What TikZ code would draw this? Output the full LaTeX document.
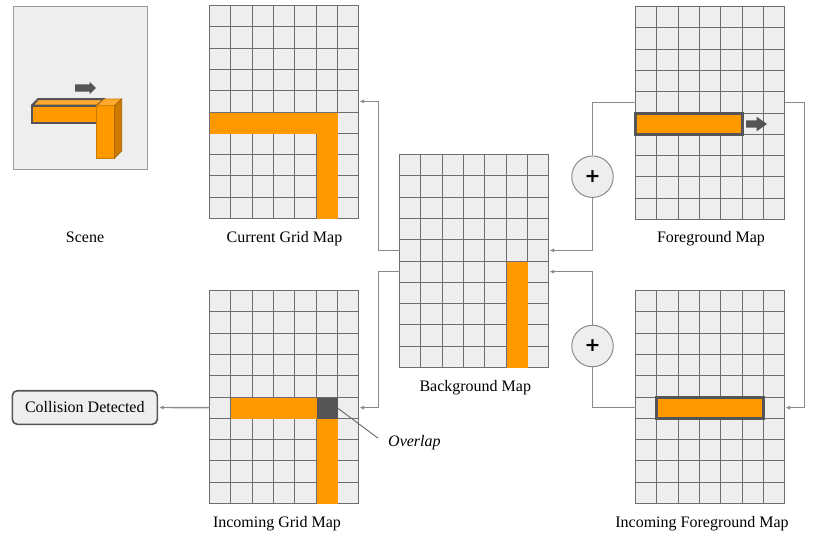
\documentclass[tikz,border=0pt]{standalone}
\usepackage{fontspec}
\setmainfont{Liberation Serif}
\newfontfamily\plusfont{DejaVu Sans}
\usetikzlibrary{calc,arrows.meta}
\definecolor{cellgray}{HTML}{EEEEEE}
\definecolor{gridln}{HTML}{6E6E6E}
\definecolor{orng}{HTML}{FF9900}
\definecolor{orngtop}{HTML}{FFAA2E}
\definecolor{orngside}{HTML}{CC7A00}
\definecolor{darkgr}{HTML}{555555}
\definecolor{connc}{HTML}{8A8A8A}
\definecolor{boxln}{HTML}{9A9A9A}
\newcommand\cellsz{21.3}
% filled block of cells, snapped to whole points: #1 colour, #2 grid, #3 col, #4 row, #5 cols, #6 rows
\newcommand\cellfill[6]{%
  \pgfmathsetmacro\cfxa{round(#3*\cellsz)}\pgfmathsetmacro\cfya{round(#4*\cellsz)}%
  \pgfmathsetmacro\cfxb{round((#3+#5)*\cellsz)}\pgfmathsetmacro\cfyb{round((#4+#6)*\cellsz)}%
  \fill[#1] ($(#2.north west)+(\cfxa,\cfya)$) rectangle ($(#2.north west)+(\cfxb,\cfyb)$);}
\newcommand\cellbar[6]{%
  \pgfmathsetmacro\cfxa{round(#3*\cellsz)}\pgfmathsetmacro\cfya{round(#4*\cellsz)}%
  \pgfmathsetmacro\cfxb{round((#3+#5)*\cellsz)}\pgfmathsetmacro\cfyb{round((#4+#6)*\cellsz)}%
  \draw[#1] ($(#2.north west)+(\cfxa,\cfya)$) rectangle ($(#2.north west)+(\cfxb,\cfyb)$);}
\newcommand\gridlinesfor[1]{%
  \foreach \i in {1,...,6}{\pgfmathsetmacro\gx{round(\i*\cellsz)}\draw[gridline] ($(#1.north west)+(\gx,0)$) -- ($(#1.south west)+(\gx,0)$);}%
  \foreach \j in {1,...,9}{\pgfmathsetmacro\gy{round(\j*\cellsz)}\draw[gridline] ($(#1.north west)+(0,\gy)$) -- ($(#1.north east)+(0,\gy)$);}%
}
\newcommand\blockarrow[6]{\fill[darkgr] (#1,#4-#5) -- (#2,#4-#5) -- (#2,#4-#6) -- (#3,#4) -- (#2,#4+#6) -- (#2,#4+#5) -- (#1,#4+#5) -- cycle;}
\tikzset{
  gridline/.style={draw=gridln, line width=1.4pt},
  gridbox/.style={rectangle, fill=cellgray, draw=gridln, line width=1.4pt,
    minimum width=149pt, minimum height=213pt, inner sep=0pt, outer sep=0pt, anchor=north west},
  lab/.style={font=\fontsize{16}{19}\selectfont, inner sep=0pt, anchor=base},
  conn/.style={draw=connc, line width=1.4pt, -{Latex[length=4.5pt,width=4pt]}, shorten >=1pt},
  connline/.style={draw=connc, line width=1.4pt},
  plusc/.style={circle, minimum size=41.5pt, fill=cellgray, draw=gridln!80, line width=1pt,
    inner sep=0pt, font=\plusfont\bfseries\fontsize{19}{19}\selectfont},
  barout/.style={fill=orng, draw=darkgr, line width=2.5pt},
}
\begin{document}
\begin{tikzpicture}[x=1pt, y=-1pt]
\useasboundingbox (0,0) rectangle (830,536);

% ---------- Scene ----------
\node[rectangle, fill=cellgray, draw=boxln, line width=1.4pt, minimum width=134pt, minimum height=163pt,
  inner sep=0pt, outer sep=0pt, anchor=north west] (scene) at (13.5,6.5) {};
\blockarrow{75}{89.5}{96}{88}{3.7}{6.3}
% horizontal bar
\draw[fill=orngtop, draw=darkgr, line width=2pt, line join=round] (31.7,105.7) -- (38.3,99) -- (105,99) -- (96.7,105.7) -- cycle;
\draw[fill=orng, draw=darkgr, line width=2pt] (31.7,105.7) rectangle (96.7,123.3);
% vertical block
\draw[fill=orng, draw=orngside, line width=0.6pt] (96.7,105.7) rectangle (114.3,158.3);
\draw[fill=orngtop, draw=orngside, line width=0.6pt] (96.7,105.7) -- (104.3,99) -- (121.7,99) -- (114.3,105.7) -- cycle;
\draw[fill=orngside, draw=orngside!80!black, line width=0.6pt] (114.3,105.7) -- (121.7,99) -- (121.7,151) -- (114.3,158.3) -- cycle;
\node[lab] (scenelab) at (85,242) {Scene};

% ---------- Current Grid Map ----------
\node[gridbox] (cur) at (209.5,5.5) {};
\gridlinesfor{cur}
\cellfill{orng}{cur}{0}{5}{5}{1}
\cellfill{orng}{cur}{5}{5}{1}{5}
\node[lab] (curlab) at (284.5,242) {Current Grid Map};

% ---------- Foreground Map ----------
\node[gridbox] (fg) at (635.5,6.5) {};
\gridlinesfor{fg}
\cellbar{barout}{fg}{0}{5}{5}{1}
\blockarrow{746}{756.7}{767}{124}{3.7}{7.3}
\node[lab] (fglab) at (711,242) {Foreground Map};

% ---------- Background Map ----------
\node[gridbox] (bg) at (399.5,154.5) {};
\gridlinesfor{bg}
\cellfill{orng}{bg}{5}{5}{1}{5}
\node[lab] (bglab) at (475.3,391) {Background Map};

% ---------- Incoming Grid Map ----------
\node[gridbox] (inc) at (209.5,290.5) {};
\gridlinesfor{inc}
\cellfill{orng}{inc}{1}{5}{4}{1}
\cellfill{orng}{inc}{5}{6}{1}{4}
\node[fill=darkgr, minimum size=21pt, inner sep=0pt, outer sep=0pt, anchor=north west] (ovl)
  at ($(inc.north west)+(107,107)$) {};
\node[lab] (inclab) at (277,527) {Incoming Grid Map};

% ---------- Incoming Foreground Map ----------
\node[gridbox] (incfg) at (635.5,290.5) {};
\gridlinesfor{incfg}
\cellbar{barout}{incfg}{1}{5}{5}{1}
\node[lab] (incfglab) at (702,527) {Incoming Foreground Map};

% ---------- Plus circles ----------
\node[plusc] (p1) at (592.5,176.7) {+};
\node[plusc] (p2) at (592.5,346) {+};

% ---------- Collision ----------
\node[rectangle, rounded corners=5pt, fill=cellgray, draw=darkgr, line width=1.6pt,
  minimum width=145pt, minimum height=33.6pt, inner sep=0pt,
  font=\fontsize{16}{19}\selectfont] (coll) at (84.8,407.5) {Collision Detected};

% ---------- Overlap ----------
\node[font=\fontsize{16}{19}\selectfont\itshape, inner sep=0pt, anchor=base west] (ov) at (388,446) {Overlap};
\draw[draw=darkgr!90, line width=0.9pt] (ovl.east) -- ($(ov.west)+(-10,-4)$);

% ---------- Connectors ----------
\draw[conn] ($(bg.north west)!0.45!(bg.south west)$) -- ++(-21,0) |- ($(cur.north east)!0.45!(cur.south east)$);
\draw[conn] ($(bg.north west)!0.55!(bg.south west)$) -- ++(-21,0) |- ($(inc.north east)!0.55!(inc.south east)$);
\draw[connline] ($(fg.north west)!0.45!(fg.south west)$) -| (p1.north);
\draw[conn] (p1.south) |- ($(bg.north east)!0.45!(bg.south east)$);
\draw[connline] ($(incfg.north west)!0.55!(incfg.south west)$) -| (p2.south);
\draw[conn] (p2.north) |- ($(bg.north east)!0.55!(bg.south east)$);
\draw[conn] ($(fg.north east)!0.45!(fg.south east)$) -- ++(20,0) |- ($(incfg.north east)!0.55!(incfg.south east)$);
\draw[conn] ($(inc.north west)!0.55!(inc.south west)$) -- (coll.east);
\end{tikzpicture}
\end{document}
